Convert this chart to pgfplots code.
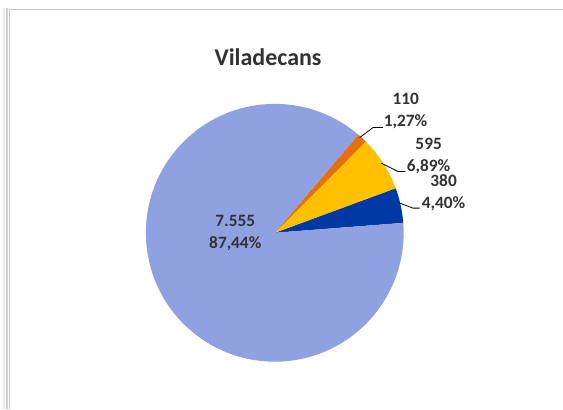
\documentclass[border=0pt]{standalone}
\usepackage{fontspec}
\setmainfont{Carlito}
\usepackage{pgfplots}
\pgfplotsset{compat=1.18}
\usepackage{pgfplotstable}

\definecolor{slLight}{RGB}{143,161,225}
\definecolor{slBlue}{RGB}{0,57,166}
\definecolor{slYellow}{RGB}{255,192,0}
\definecolor{slOrange}{RGB}{229,112,15}
\definecolor{txt}{RGB}{50,50,50}

% values of the pie, counter-clockwise from the start angle
\pgfplotstableread{
name   value
blue   380
yellow 595
orange 110
light  7555
}\piedata

\pgfplotstablegetelem{0}{value}\of\piedata \let\vA\pgfplotsretval
\pgfplotstablegetelem{1}{value}\of\piedata \let\vB\pgfplotsretval
\pgfplotstablegetelem{2}{value}\of\piedata \let\vC\pgfplotsretval
\pgfplotstablegetelem{3}{value}\of\piedata \let\vD\pgfplotsretval
\pgfmathsetmacro\total{\vA+\vB+\vC+\vD}
\pgfmathsetmacro\tA{4.4}
\pgfmathsetmacro\tB{\tA+\vA/\total*360}
\pgfmathsetmacro\tC{\tB+\vB/\total*360}
\pgfmathsetmacro\tD{\tC+\vC/\total*360}
\pgfmathsetmacro\tE{\tD+\vD/\total*360}

\begin{document}
\begin{tikzpicture}
\begin{axis}[x=1pt,y=1pt,xmin=0,xmax=563,ymin=0,ymax=409,
  scale only axis,hide axis,clip=false,disabledatascaling]
  \fill[white] (axis cs:0,0) rectangle (axis cs:563,409);
  % frame of the chart area
  \addplot[gray!15,line width=2pt] coordinates {(4,0) (4,401)};
  \addplot[gray!35,line width=2pt] coordinates {(7,0) (7,401)};
  \addplot[gray!45,line width=1pt] coordinates {(9.5,0) (9.5,399.5) (563,399.5)};

  % slices
  \fill[slBlue]   (axis cs:275,176) -- ++(\tA:129pt) arc[start angle=\tA,end angle=\tB,radius=129pt] -- cycle;
  \fill[slYellow] (axis cs:275,176) -- ++(\tB:129pt) arc[start angle=\tB,end angle=\tC,radius=129pt] -- cycle;
  \fill[slOrange] (axis cs:275,176) -- ++(\tC:129pt) arc[start angle=\tC,end angle=\tD,radius=129pt] -- cycle;
  \fill[slLight]  (axis cs:275,176) -- ++(\tD:129pt) arc[start angle=\tD,end angle=\tE,radius=129pt] -- cycle;

  % leader lines
  \addplot[black,line width=0.8pt] coordinates {(360,271.3) (373.3,281.3) (383.3,281.3)};
  \addplot[black,line width=0.8pt] coordinates {(381.7,245.7) (398.3,237.3) (405.7,237.3)};
  \addplot[black,line width=0.8pt] coordinates {(400,205.7) (413.3,200.7) (420,200.7)};

  % title and data labels
  \node[text=txt,font=\fontsize{24}{29}\selectfont\bfseries] at (axis cs:268.3,351.3) {Viladecans};
  \tikzset{lbl/.style={text=txt,align=center,inner sep=0pt,
    font=\fontsize{17.3}{22}\selectfont\bfseries}}
  \node[lbl] at (axis cs:406,297.8) {110\\1,27\%};
  \node[lbl] at (axis cs:429,252.5) {595\\6,89\%};
  \node[lbl] at (axis cs:444,215.7) {380\\4,40\%};
  \node[lbl] at (axis cs:235.5,175.5) {7.555\\87,44\%};
\end{axis}
\end{tikzpicture}
\end{document}
